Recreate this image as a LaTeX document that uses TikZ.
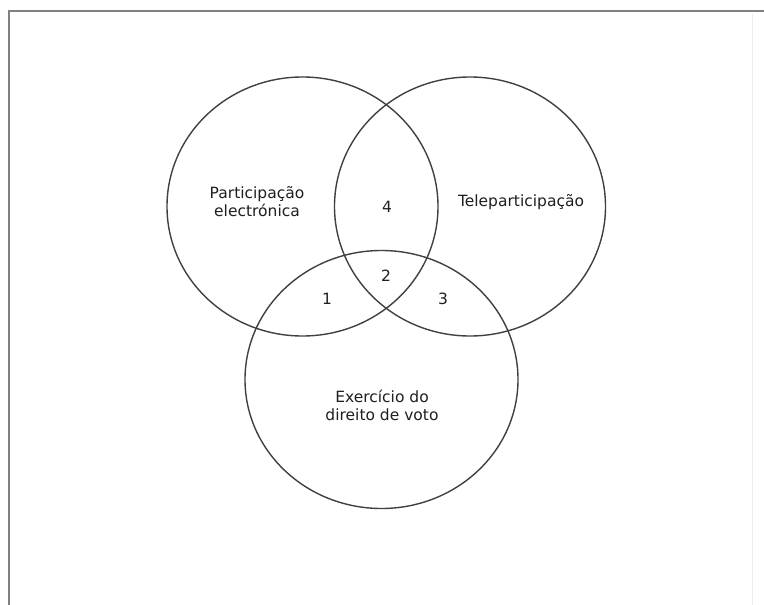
\documentclass[tikz,border=0pt]{standalone}
\usepackage{fontspec}
\setmainfont{DejaVu Sans}
\usetikzlibrary{shapes.geometric}
\begin{document}
\begin{tikzpicture}[x=1pt,y=-1pt,
  setcircle/.style={draw=black!75, line width=1.4pt},
  lbl/.style={font=\fontsize{15.5}{18}\selectfont, text=black!88, align=center, inner sep=0pt},
  num/.style={font=\fontsize{15.5}{18}\selectfont, text=black!88, inner sep=0pt},
  framel/.style={draw=black!50, line width=2pt}]
\useasboundingbox (0,0) rectangle (764,605);
\fill[white] (0,0) rectangle (764,605);
% frame
\coordinate (fbl) at (9,605);
\coordinate (ftl) at (9,11);
\coordinate (ftr) at (764,11);
\draw[framel] (fbl) -- (ftl) -- (ftr);
\coordinate (rt) at (752,14);
\coordinate (rb) at (752,605);
\draw[draw=black!8, line width=1pt] (rt) -- (rb);
% sets
\node[setcircle, ellipse, minimum width=271pt, minimum height=259pt, inner sep=0pt] (A) at (302.5,206.5) {};
\node[setcircle, ellipse, minimum width=271pt, minimum height=259pt, inner sep=0pt] (B) at (470,206.5) {};
\node[setcircle, ellipse, minimum width=273pt, minimum height=258pt, inner sep=0pt] (C) at (381.5,379.5) {};
% labels
\node[lbl] (la) at (257,202) {Participação\\electrónica};
\node[lbl] (lb) at (521,202) {Teleparticipação};
\node[lbl] (lc) at (382,405.5) {Exercício do\\direito de voto};
\node[num] (n4) at (387,207) {4};
\node[num] (n2) at (386,276) {2};
\node[num] (n1) at (327,299) {1};
\node[num] (n3) at (443,299) {3};
\end{tikzpicture}
\end{document}
